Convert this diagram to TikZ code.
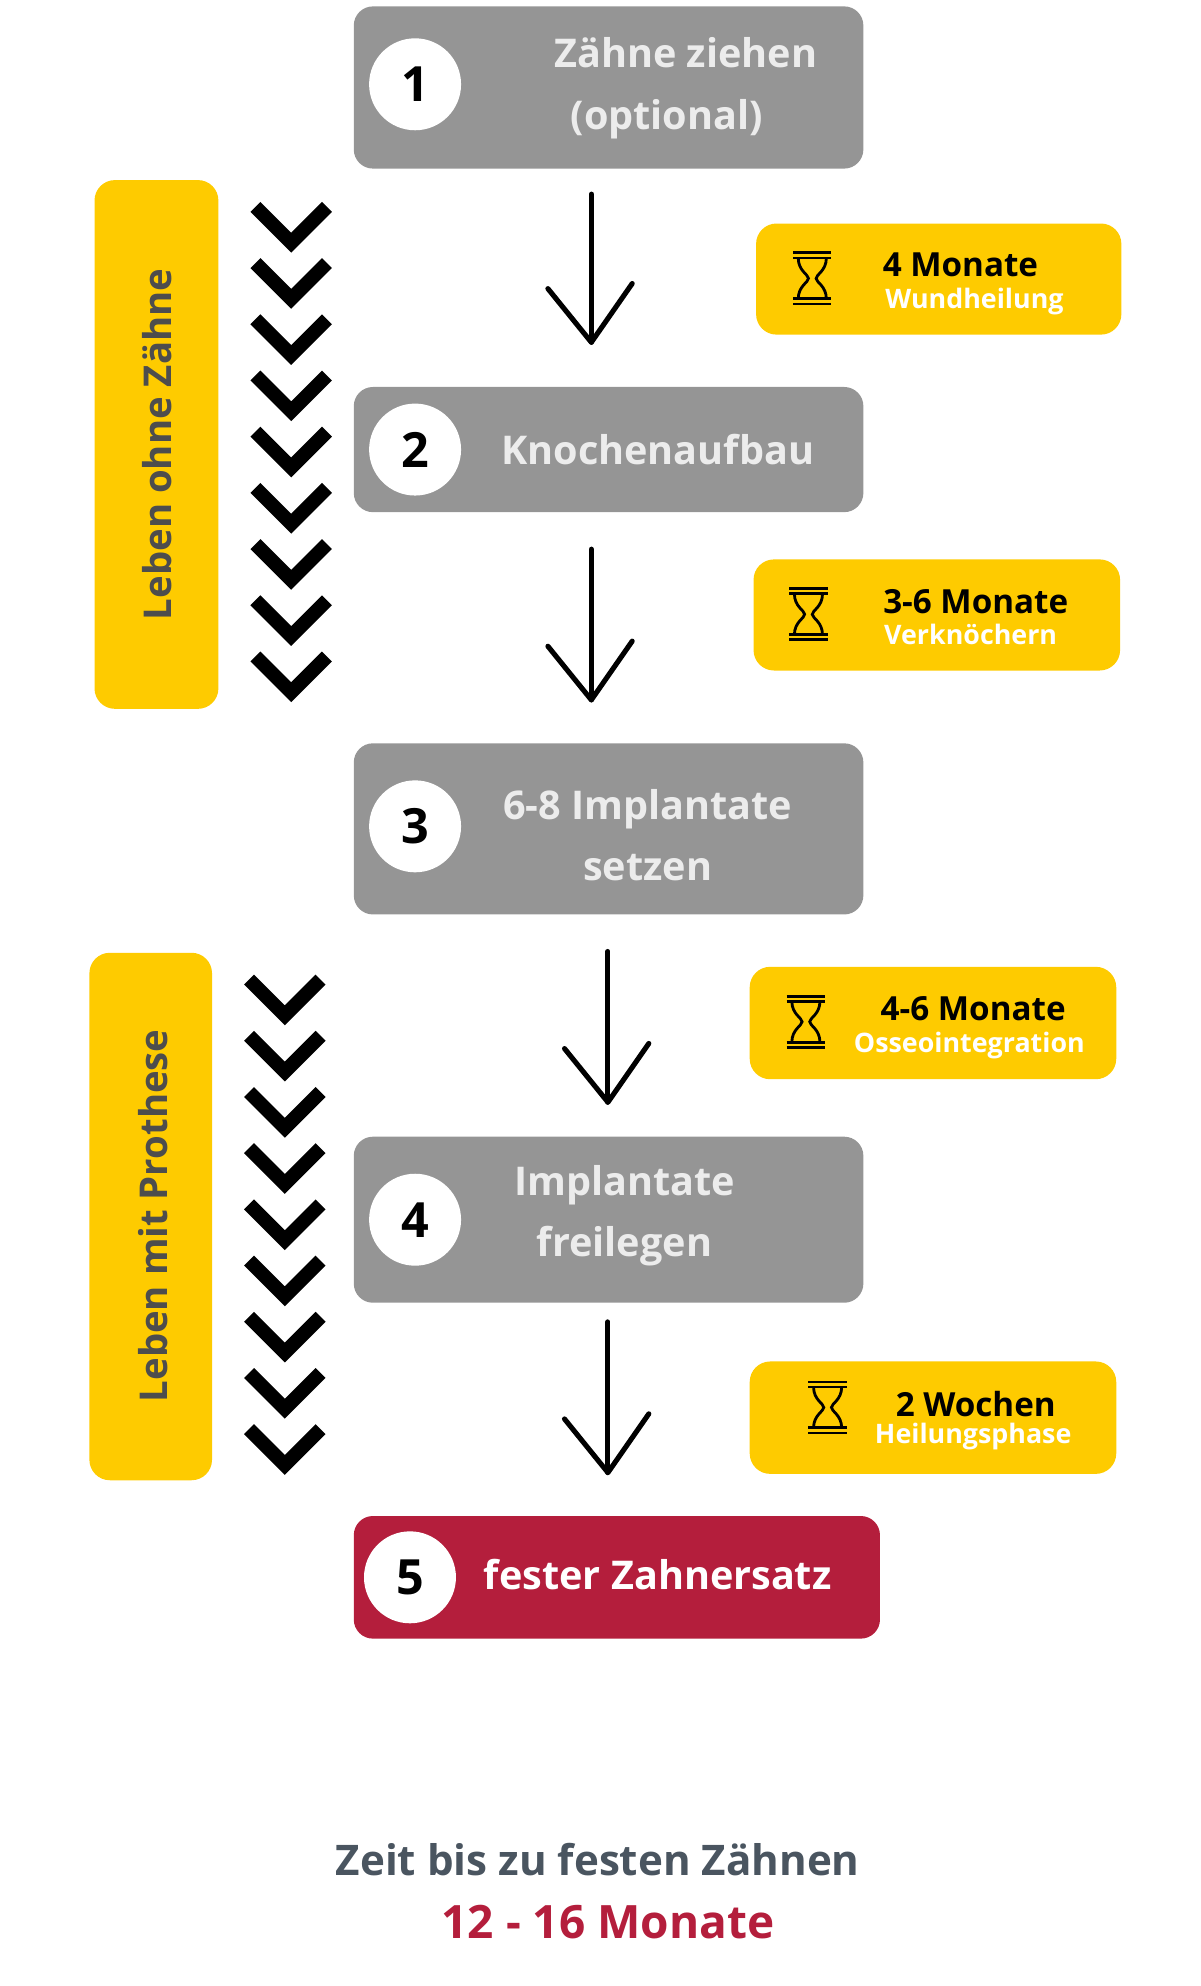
\documentclass[tikz,border=0pt]{standalone}
\usepackage{fontspec}
\setmainfont{Open Sans}
\definecolor{boxgray}{HTML}{959595}
\definecolor{boxtext}{HTML}{ECECEC}
\definecolor{crim}{HTML}{B41E3C}
\definecolor{yel}{HTML}{FECB00}
\definecolor{sidetext}{HTML}{4D4D4D}
\definecolor{bottomtext}{HTML}{4A5560}
\begin{document}
\begin{tikzpicture}[x=1pt,y=-1pt,
  stepbox/.style={fill=boxgray,rounded corners=15pt},
  num/.style={circle,fill=white,minimum size=72pt,inner sep=0pt,font=\fontsize{38}{38}\selectfont\bfseries,text=black},
  stxt/.style={text=boxtext,font=\fontsize{31}{48}\selectfont\bfseries,align=center},
  badge/.style={fill=yel,rounded corners=16pt},
  btitle/.style={font=\fontsize{26}{26}\selectfont\bfseries,text=black},
  bsub/.style={font=\fontsize{21}{21}\selectfont\bfseries,text=white},
  side/.style={fill=yel,rounded corners=16pt},
  sidet/.style={rotate=90,text=sidetext,font=\fontsize{30}{30}\selectfont\bfseries},
  harrow/.style={line width=4pt,line cap=round,line join=round,black},
  chev/.style={line width=11pt,line join=miter,black},
  hg/.style={line width=2.2pt,black}]
\useasboundingbox (0,0) rectangle (940,1555);
% steps
\fill[stepbox] (277,5) rectangle (676,132);
\node[num] (n1) at (325,66) {1};
\node[stxt] (t1) at (522,69) {\hspace*{30pt}Zähne ziehen\\(optional)};
\fill[stepbox] (277,303) rectangle (676,401);
\node[num] (n2) at (325,352) {2};
\node[stxt] (t2) at (515,352) {Knochenaufbau};
\fill[stepbox] (277,582) rectangle (676,716);
\node[num] (n3) at (325,647) {3};
\node[stxt] (t3) at (507,654) {6-8 Implantate\\setzen};
\fill[stepbox] (277,890) rectangle (676,1020);
\node[num] (n4) at (325,955) {4};
\node[stxt] (t4) at (489,952) {Implantate\\freilegen};
\fill[crim,rounded corners=15pt] (277,1187) rectangle (689,1283);
\node[num] (n5) at (321,1235) {5};
\node[stxt,text=white] (t5) at (515,1233) {fester Zahnersatz};
% arrows
\foreach \x/\a/\b in {463/152/268, 463/430/548, 476/745/863, 476/1035/1153}{
  \draw[harrow] (\x,\a) -- (\x,\b);
  \draw[harrow] (\x-34,\b-42) -- (\x,\b) -- (\x+32,\b-46);
}
% badges
\newcommand{\hglass}[2]{%
  \begin{scope}[shift={(#1,#2)}]
   \draw[hg] (-15,-20) -- (15,-20) (-15,-16) -- (15,-16);
   \draw[hg] (-15,16) -- (15,16) (-15,20) -- (15,20);
   \draw[hg] (-11,-16) .. controls (-11,-6) and (-3,-3) .. (-3,0) .. controls (-3,3) and (-11,6) .. (-11,16);
   \draw[hg] (11,-16) .. controls (11,-6) and (3,-3) .. (3,0) .. controls (3,3) and (11,6) .. (11,16);
  \end{scope}}
\fill[badge] (592,175) rectangle (878,262);
\hglass{636}{218}
\node[btitle] (b1) at (752,207) {4 Monate};
\node[bsub] (s1) at (763,236) {Wundheilung};
\fill[badge] (590,438) rectangle (877,525);
\hglass{633}{481}
\node[btitle] (b2) at (764,471) {3-6 Monate};
\node[bsub] (s2) at (760,497) {Verknöchern};
\fill[badge] (587,757) rectangle (874,845);
\hglass{631}{800}
\node[btitle] (b3) at (762,790) {4-6 Monate};
\node[bsub] (s3) at (759,819) {Osseointegration};
\fill[badge] (587,1066) rectangle (874,1154);
\hglass{648}{1102}
\node[btitle] (b4) at (764,1099) {2 Wochen};
\node[bsub] (s4) at (762,1125) {Heilungsphase};
% side bars
\fill[side] (74,141) rectangle (171,555);
\node[sidet] (l1) at (123,348) {Leben ohne Zähne};
\fill[side] (70,746) rectangle (166,1159);
\node[sidet] (l2) at (120,952) {Leben mit Prothese};
% chevrons
\foreach \i in {0,...,8}{
  \draw[chev] (200,{162+44*\i}) -- (228,{190+44*\i}) -- (256,{162+44*\i});
  \draw[chev] (195,{767+44*\i}) -- (223,{795+44*\i}) -- (251,{767+44*\i});
}
% bottom
\node[text=bottomtext,font=\fontsize{33}{33}\selectfont\bfseries] (z1) at (468,1456) {Zeit bis zu festen Zähnen};
\node[text=crim,font=\fontsize{36}{36}\selectfont\bfseries] (z2) at (476,1505) {12 - 16 Monate};
\end{tikzpicture}
\end{document}
